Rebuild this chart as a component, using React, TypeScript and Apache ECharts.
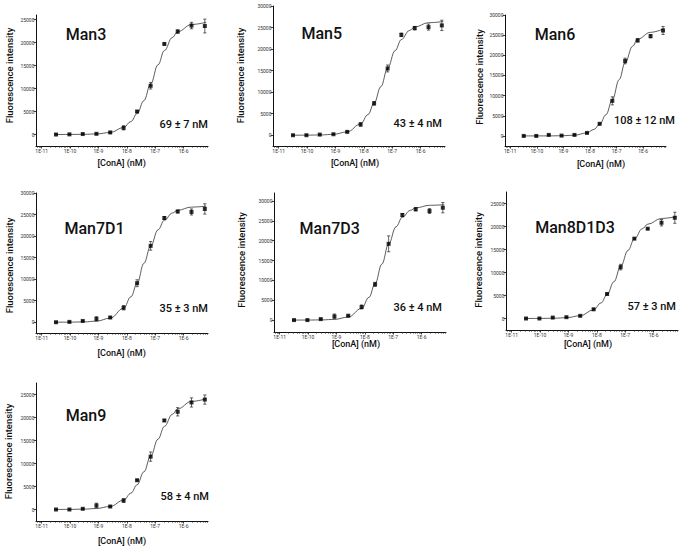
import React, { useEffect, useRef } from 'react';
import * as echarts from 'echarts';

// ---------------- data ----------------
const panelNames = ['Man3', 'Man5', 'Man6', 'Man7D1', 'Man7D3', 'Man8D1D3', 'Man9'];
const kdLabels = ['69 ± 7 nM', '43 ± 4 nM', '108 ± 12 nM', '35 ± 3 nM', '36 ± 4 nM', '57 ± 3 nM', '58 ± 4 nM'];

// ConA concentrations of the measured points (M)
const concentrations = [3.2e-11, 9.5e-11, 2.8e-10, 8.5e-10, 2.6e-9, 7.7e-9, 2.3e-8, 6.9e-8, 2.1e-7, 6.2e-7, 1.9e-6, 5.6e-6];
// concentrations at which the fitted curves were read (M)
const fitConcentrations = [3.2e-11, 1e-10, 3.2e-10, 8.5e-10, 2.6e-9, 7.7e-9, 1.4e-8, 2.3e-8, 4e-8, 6.9e-8, 1.26e-7, 2.1e-7, 4e-7, 6.2e-7, 1.9e-6, 6.3e-6];

const man3Mean = [0, 30, 100, 150, 450, 1450, 5000, 10600, 19700, 22400, 23700, 23600];
const man3Err = [100, 100, 100, 100, 150, 450, 200, 700, 200, 350, 700, 1500];
const man3Fit = [0, 11, 42, 126, 440, 1525, 2830, 4550, 7380, 11000, 15170, 18260, 21100, 22360, 23930, 24430];

const man5Mean = [0, 0, 150, 230, 780, 2500, 7400, 15500, 23300, 24860, 25100, 25500];
const man5Err = [100, 100, 100, 100, 150, 400, 400, 800, 400, 400, 700, 1200];
const man5Fit = [5, 18, 71, 218, 776, 2620, 4800, 7420, 11300, 15550, 19630, 22210, 24290, 25130, 26120, 26400];

const man6Mean = [0, 0, 250, 80, 250, 750, 3000, 8700, 18600, 23700, 24750, 26150];
const man6Err = [100, 100, 100, 100, 100, 150, 200, 1000, 700, 400, 400, 1000];
const man6Fit = [0, 3, 13, 44, 185, 750, 1600, 2860, 5270, 8960, 14000, 18190, 22250, 24020, 25700, 26650];

const man7d1Mean = [0, 80, 300, 780, 1100, 3360, 9060, 17730, 24200, 25700, 25600, 26300];
const man7d1Err = [100, 100, 100, 500, 150, 500, 800, 1000, 300, 300, 700, 1200];
const man7d1Fit = [5, 20, 81, 255, 946, 3250, 5920, 9000, 13680, 17650, 21460, 23670, 25350, 26000, 26730, 26940];

const man7d3Mean = [0, 0, 250, 930, 1100, 3300, 9000, 19200, 26450, 27900, 27460, 28300];
const man7d3Err = [100, 100, 100, 600, 150, 500, 500, 2000, 400, 400, 600, 1300];
const man7d3Fit = [3, 11, 53, 183, 757, 2940, 5730, 9160, 14120, 19180, 23510, 25910, 27630, 28250, 28900, 29060];

const man8Mean = [0, 0, 200, 290, 580, 2000, 5330, 11170, 17360, 19520, 20820, 21900];
const man8Err = [100, 100, 100, 100, 100, 150, 150, 600, 150, 150, 700, 1200];
const man8Fit = [5, 17, 63, 181, 595, 1890, 3380, 5200, 7990, 11290, 14820, 17300, 19520, 20500, 21750, 22150];

const man9Mean = [0, 0, 150, 870, 650, 1950, 6360, 11490, 19360, 21240, 23270, 23900];
const man9Err = [100, 100, 100, 500, 150, 400, 150, 1000, 200, 900, 1000, 1000];
const man9Fit = [7, 23, 79, 215, 675, 2030, 3550, 5380, 8190, 11570, 15310, 18060, 20680, 21880, 23500, 24070];

const xTickLabels = ['1E-11', '1E-10', '1E-9', '1E-8', '1E-7', '1E-6'];
const xTickDecades = [-11, -10, -9, -8, -7, -6];
const yTickLabelMax = [25000, 30000, 30000, 30000, 30000, 25000, 25000];
const yTickStep = 5000;

// ---------------- layout ----------------
const X_MIN = -11.2;
const X_MAX = -5.14;
const FONT = 'Roboto, "Open Sans", sans-serif';

const grids = [
  { left: 36, top: 15, width: 172, height: 131 },
  { left: 273, top: 6, width: 172, height: 140 },
  { left: 505, top: 15, width: 161, height: 131 },
  { left: 36, top: 193, width: 172, height: 140 },
  { left: 274, top: 193, width: 172, height: 139 },
  { left: 506, top: 192, width: 172, height: 138 },
  { left: 36, top: 383, width: 172, height: 138 },
];
const yRanges = [
  [-2500, 26000], [-2500, 30000], [-2500, 30000],
  [-2500, 30000], [-3000, 32000], [-2500, 27500],
  [-2500, 27500],
];
const titlePos = [[86, 34], [321.7, 33.5], [555, 34], [94.5, 228], [329.7, 228], [575, 227], [86, 415]];
const kdPos = [[208, 124], [442, 123.5], [675, 120], [208, 308.5], [442, 307], [676, 306.5], [209, 496.5]];
const yNamePos = [[9, 75.5], [240.5, 75.5], [479.5, 77], [9, 265.5], [241.5, 260], [478.5, 260], [8.5, 451.5]];
const xNamePos = [[121.7, 163.3], [355, 163], [601, 163.8], [121.7, 352.5], [356, 344], [588, 344], [122, 540.8]];

const means = [man3Mean, man5Mean, man6Mean, man7d1Mean, man7d3Mean, man8Mean, man9Mean];
const errs = [man3Err, man5Err, man6Err, man7d1Err, man7d3Err, man8Err, man9Err];
const fits = [man3Fit, man5Fit, man6Fit, man7d1Fit, man7d3Fit, man8Fit, man9Fit];

function buildOption() {
  const minorTicks: number[] = [];
  for (let n = -12; n <= -5; n++) {
    for (let k = 2; k <= 9; k++) {
      const v = n + Math.log10(k);
      if (v > X_MIN && v < X_MAX) minorTicks.push(v);
    }
  }
  const axisColor = '#111';
  const gridOpts: any[] = [];
  const xAxes: any[] = [];
  const yAxes: any[] = [];
  const series: any[] = [];
  const graphics: any[] = [];

  panelNames.forEach((name, p) => {
    gridOpts.push({ ...grids[p], containLabel: false });
    xAxes.push({
      gridIndex: p, type: 'value', position: 'bottom', min: X_MIN, max: X_MAX,
      axisLine: { show: true, onZero: false, lineStyle: { color: axisColor, width: 1 } },
      axisTick: { show: true, customValues: xTickDecades, length: 2.5, lineStyle: { color: axisColor, width: 0.8 } },
      axisLabel: {
        show: true, customValues: xTickDecades, fontSize: 5, color: '#333', margin: 2.5, fontFamily: FONT,
        formatter: (v: number) => xTickLabels[xTickDecades.indexOf(Math.round(v))] ?? '',
      },
      splitLine: { show: false },
    });
    xAxes.push({
      gridIndex: p, type: 'value', position: 'bottom', offset: 0, min: X_MIN, max: X_MAX,
      axisLine: { show: false, onZero: false },
      axisTick: { show: true, customValues: minorTicks, length: 1.6, lineStyle: { color: '#222', width: 0.8 } },
      axisLabel: { show: false },
      splitLine: { show: false },
    });
    const yTicks: number[] = [];
    for (let v = 0; v <= yTickLabelMax[p]; v += yTickStep) yTicks.push(v);
    yAxes.push({
      gridIndex: p, type: 'value', min: yRanges[p][0], max: yRanges[p][1],
      axisLine: { show: true, onZero: false, lineStyle: { color: axisColor, width: 1 } },
      axisTick: { show: true, customValues: yTicks, length: 2.5, lineStyle: { color: axisColor, width: 0.8 } },
      axisLabel: {
        show: true, customValues: yTicks, fontSize: 5, color: '#333', margin: 1.5, fontFamily: FONT,
        formatter: (v: number) => String(Math.round(v)),
      },
      splitLine: { show: false },
    });

    const xi = 2 * p;
    series.push({
      type: 'line', xAxisIndex: xi, yAxisIndex: p,
      data: fitConcentrations.map((c, i) => [Math.log10(c), fits[p][i]]),
      smooth: 0.4, smoothMonotone: 'x', showSymbol: false, symbol: 'none',
      lineStyle: { color: '#333', width: 0.8 }, z: 2, silent: true,
    });
    series.push({
      type: 'custom', xAxisIndex: xi, yAxisIndex: p, z: 3, silent: true,
      data: concentrations.map((c, i) => [Math.log10(c), means[p][i] - errs[p][i], means[p][i] + errs[p][i]]),
      encode: { x: 0, y: [1, 2] },
      renderItem: (params: any, api: any) => {
        const x = api.value(0);
        const a = api.coord([x, api.value(1)]);
        const b = api.coord([x, api.value(2)]);
        const cap = 1.6;
        const style = { stroke: '#222', lineWidth: 0.7 };
        return {
          type: 'group',
          children: [
            { type: 'line', shape: { x1: a[0], y1: a[1], x2: b[0], y2: b[1] }, style },
            { type: 'line', shape: { x1: a[0] - cap, y1: a[1], x2: a[0] + cap, y2: a[1] }, style },
            { type: 'line', shape: { x1: b[0] - cap, y1: b[1], x2: b[0] + cap, y2: b[1] }, style },
          ],
        };
      },
    });
    series.push({
      type: 'scatter', xAxisIndex: xi, yAxisIndex: p, z: 4, silent: true,
      data: concentrations.map((c, i) => [Math.log10(c), means[p][i]]),
      symbol: 'rect', symbolSize: 4, itemStyle: { color: '#000' },
    });

    graphics.push({
      type: 'text', x: titlePos[p][0], y: titlePos[p][1],
      style: { text: name, fill: '#111', font: `500 16px ${FONT}`, align: 'center', verticalAlign: 'middle' },
    });
    graphics.push({
      type: 'text', x: kdPos[p][0], y: kdPos[p][1],
      style: { text: kdLabels[p], fill: '#111', font: `500 11px ${FONT}`, align: 'right', verticalAlign: 'middle' },
    });
    graphics.push({
      type: 'text', x: yNamePos[p][0], y: yNamePos[p][1], rotation: Math.PI / 2,
      style: { text: 'Fluorescence intensity', fill: '#111', font: `500 9.5px ${FONT}`, align: 'center', verticalAlign: 'middle' },
    });
    graphics.push({
      type: 'text', x: xNamePos[p][0], y: xNamePos[p][1],
      style: { text: '[ConA] (nM)', fill: '#111', font: `500 9px ${FONT}`, align: 'center', verticalAlign: 'middle' },
    });
  });

  return {
    animation: false,
    backgroundColor: '#fff',
    grid: gridOpts,
    xAxis: xAxes,
    yAxis: yAxes,
    series,
    graphic: graphics,
  };
}

export default function App() {
  const ref = useRef<HTMLDivElement>(null);
  useEffect(() => {
    if (!ref.current) return;
    const chart = echarts.init(ref.current, undefined, { renderer: 'svg' });
    chart.setOption(buildOption() as any);
    return () => chart.dispose();
  }, []);
  return (
    <div
      ref={ref}
      style={{ position: 'absolute', left: 0, top: 0, width: 685, height: 552, background: '#fff' }}
    />
  );
}
